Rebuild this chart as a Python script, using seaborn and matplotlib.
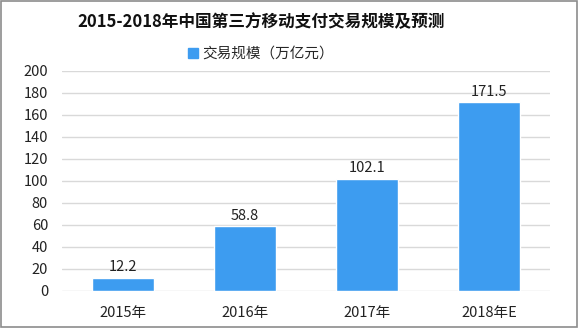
import matplotlib
matplotlib.use("Agg")
import matplotlib.pyplot as plt
import matplotlib.patches as mpatches
import seaborn as sns
import pandas as pd

categories = ["2015年", "2016年", "2017年", "2018年E"]
values = [12.2, 58.8, 102.1, 171.5]
series_name = "交易规模（万亿元）"
title = "2015-2018年中国第三方移动支付交易规模及预测"
yticks = [0, 20, 40, 60, 80, 100, 120, 140, 160, 180, 200]

sns.set_theme(style="white")
plt.rcParams['font.family'] = ['Noto Sans CJK SC', 'DejaVu Sans']

df = pd.DataFrame({"year": categories, "value": values})

fig = plt.figure(figsize=(5.78, 3.28), dpi=100)
ax = fig.add_axes([62/578, 1-291/328, 488/578, 220/328])

color = "#3d9cf0"
sns.barplot(data=df, x="year", y="value", color=color, width=0.51, ax=ax, zorder=3, saturation=1)

ax.set_ylim(0, 200)
ax.set_yticks(yticks)
ax.set_yticklabels([str(t) for t in yticks], fontsize=10.5, color="#222222")
ax.tick_params(axis='x', labelsize=10.5, colors="#222222", length=0, pad=11)
ax.tick_params(axis='y', length=0, pad=10)
ax.set_xlabel("")
ax.set_ylabel("")
ax.yaxis.grid(True, color="#d9d9d9", linewidth=1, zorder=0)
ax.xaxis.grid(False)
for s in ax.spines.values():
    s.set_visible(False)

for i, v in enumerate(values):
    ax.text(i, v + 3, f"{v}", ha="center", va="bottom", fontsize=10.5, color="#222222")

fig.text(261/578, 1-22/328, title, ha="center", va="center", fontsize=12, fontweight="bold", color="#111111")

handle = mpatches.Patch(color=color, label=series_name)
fig.legend(handles=[handle], loc="center", bbox_to_anchor=(261/578, 1-54/328), frameon=False,
           fontsize=10.5, handlelength=0.7, handleheight=0.7, handletextpad=0.3)

border = mpatches.Rectangle((0.002, 0.003), 0.996, 0.994, transform=fig.transFigure, fill=False,
                            edgecolor="#8c8c8c", linewidth=1.2)
fig.patches.append(border)

fig.savefig("out.png", dpi=100)
